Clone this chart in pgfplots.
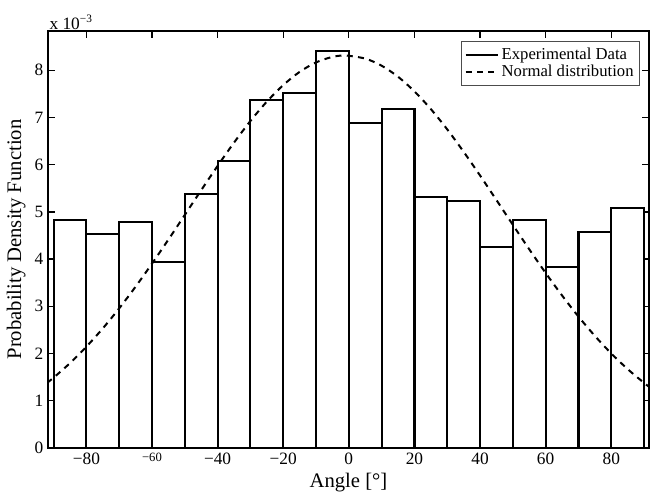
\documentclass[border=0pt]{standalone}
\usepackage{fontspec}
\setmainfont{Liberation Serif}
\usepackage{pgfplots}
\pgfplotsset{compat=1.18}
\usetikzlibrary{calc}
\begin{document}
\begin{tikzpicture}
\begin{axis}[
  name=ax,
  scale only axis,
  width=450.75pt, height=312.75pt,
  xmin=-91.7, xmax=91.5, ymin=0, ymax=0.00883,
  xtick={-80,-60,-40,-20,0,20,40,60,80},
  xticklabels={−80,{\fontsize{9.5}{10}\selectfont −60},−40,−20,0,20,40,60,80},
  ytick={0,0.001,0.002,0.003,0.004,0.005,0.006,0.007,0.008},
  scaled y ticks=base 10:3,
  ytick scale label code/.code={x 10\raisebox{0.9ex}{\fontsize{8.5}{9}\selectfont −3}},
  every y tick scale label/.style={at={(rel axis cs:0,1)}, anchor=south west, inner sep=1pt},
  tick align=inside,
  xtick pos=both, ytick pos=both,
  major tick length=5pt,
  axis line style={line width=1.2pt},
  every tick/.style={black, line width=1pt},
  tick label style={font=\fontsize{13}{15}\selectfont},
  label style={font=\fontsize{15.5}{18}\selectfont},
  xlabel={Angle [°]},
  ylabel={Probability Density Function},
  /pgf/number format/assume math mode=true,
  legend style={at={(rel axis cs:0.985,0.975)}, anchor=north east, draw=black!70, line width=0.6pt,
    font=\fontsize{12.5}{14}\selectfont, cells={anchor=west}, inner sep=2.5pt, row sep=-1pt},
  legend image code/.code={\draw[#1] (0cm,0cm) -- (0.85cm,0cm);},
]
\addlegendimage{black, line width=1.5pt}
\addlegendentry{Experimental Data}
\addplot[ybar interval, fill=white, draw=black, line width=1.6pt, forget plot] coordinates {
(-90,0.00483) (-80,0.00453) (-70,0.00478) (-60,0.00394) (-50,0.00538) (-40,0.00607)
(-30,0.00737) (-20,0.00751) (-10,0.00841) (0,0.00688) (10,0.00717) (20,0.00532)
(30,0.00523) (40,0.00425) (50,0.00483) (60,0.00383) (70,0.00458) (80,0.00508) (90,0.00508)
};
\addplot[black, line width=1.5pt, dash pattern=on 4.5pt off 4pt, smooth] coordinates {
(-92,0.001378) (-90,0.001489) (-85,0.001797) (-80,0.002145) (-75,0.002532) (-70,0.002957)
(-65,0.003416) (-60,0.003904) (-55,0.004413) (-50,0.004935) (-45,0.005460) (-40,0.005973)
(-35,0.006466) (-30,0.006924) (-25,0.007334) (-20,0.007684) (-15,0.007964) (-10,0.008165)
(-5,0.008281) (-1,0.008310) (5,0.008245) (10,0.008095) (15,0.007861) (20,0.007551)
(25,0.007177) (30,0.006746) (35,0.006272) (40,0.005770) (45,0.005250) (50,0.004725)
(55,0.004207) (60,0.003706) (65,0.003229) (70,0.002783) (75,0.002373) (80,0.002001)
(85,0.001670) (90,0.001378) (92,0.001272)
};
\addlegendentry{Normal distribution}
\end{axis}
\path ($(ax.south west)+(-36pt,-31.5pt)$) rectangle ($(ax.north east)+(3.75pt,23.25pt)$);
\end{tikzpicture}
\end{document}
